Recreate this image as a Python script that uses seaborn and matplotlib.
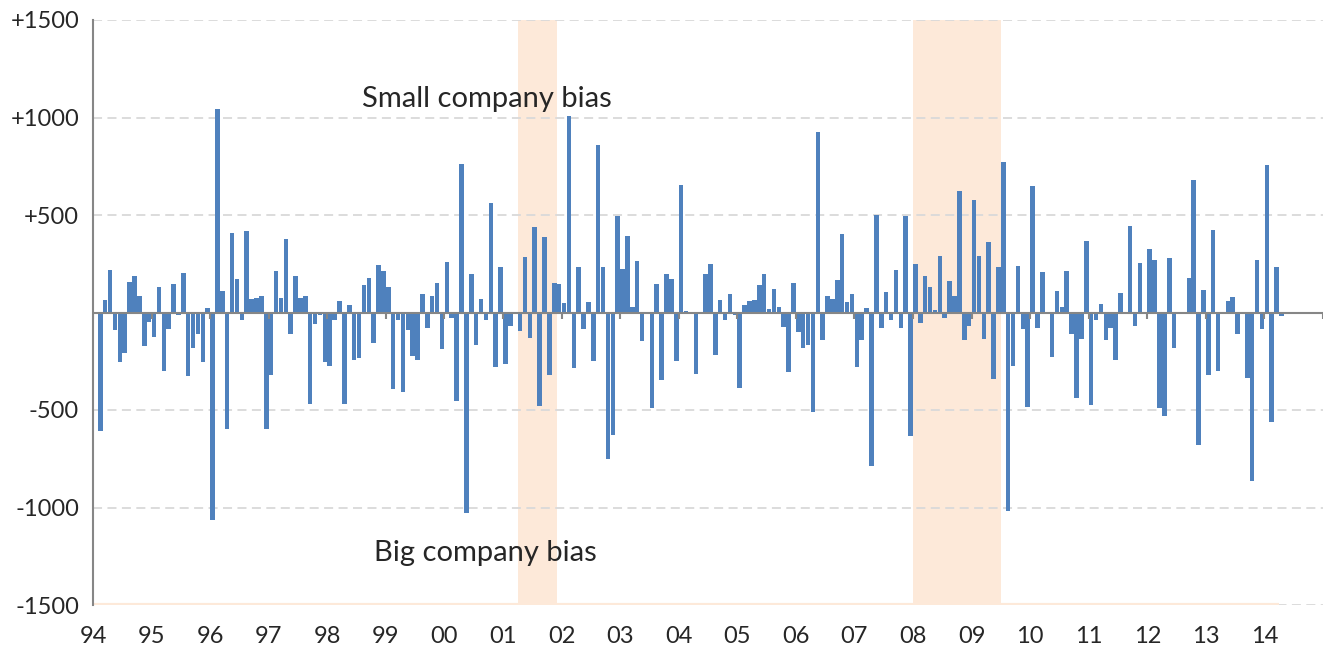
import matplotlib
matplotlib.use("Agg")
import matplotlib.pyplot as plt
import numpy as np
import pandas as pd
import seaborn as sns

# monthly readings, one list per year (Jan..Dec); the series starts in Feb 1994
y1994 = [-610, 65, 219, -92, -255, -209, 156, 189, 85, -172, -51]
y1995 = [-124, 129, -298, -83, 148, -15, 204, -328, -184, -109, -252, 24]
y1996 = [-1064, 1044, 109, -597, 406, 172, -39, 418, 70, 75, 87, -597]
y1997 = [-320, 212, 73, 376, -109, 189, 75, 83, -469, -61, -15, -252]
y1998 = [-274, -39, 58, -471, 37, -243, -231, 139, 179, -155, 243, 212]
y1999 = [131, -393, -36, -410, -92, -223, -243, 95, -82, 87, 153, -189]
y2000 = [258, -27, -452, 763, -1030, 200, -168, 71, -41, 559, -277, 233]
y2001 = [-265, -70, -5, -95, 286, -129, 440, -481, 386, -318, 153, 146]
y2002 = [48, 1010, -287, 231, -87, 54, -250, 860, 231, -750, -627, 496]
y2003 = [223, 394, 27, 264, -146, -5, -490, 146, -347, 197, 172, -248]
y2004 = [656, 8, 3, -316, 3, 197, 248, -219, 66, -41, 97, -15]
y2005 = [-389, 37, 58, 66, 139, 197, 19, 121, 26, -75, -304, 150]
y2006 = [-100, -180, -167, -508, 925, -141, 85, 70, 168, 403, 54, 95]
y2007 = [-282, -141, 24, -787, 498, -78, 104, -39, 218, -78, 496, -634]
y2008 = [250, -53, 189, 131, 15, 291, -27, 163, 85, 622, -143, -70]
y2009 = [576, 291, -136, 362, -342, 233, 772, -1017, -274, 241, -83, -486]
y2010 = [648, -80, 207, 3, -226, 110, 27, 212, -112, -438, -134, 365]
y2011 = [-474, -36, 42, -143, -80, -243, 100, -10, 445, -71, 253, -10]
y2012 = [328, 267, -491, -530, 279, -180, 3, -5, 177, 678, -678, 116]
y2013 = [-323, 422, -298, 3, 58, 77, -109, 3, -337, -865, 270, -87]
y2014 = [755, -559, 233, -19]

years = list(range(1994, 2016))
year_labels = [str(y)[2:] for y in years[:-1]] + ['']
shade_from = ['2001-04', '2008-01']
shade_to = ['2001-12', '2009-07']
yticks = [-1500, -1000, -500, 0, 500, 1000, 1500]
ytick_labels = ['-1500', '-1000', '-500', '', '+500', '+1000', '+1500']

values = (y1994 + y1995 + y1996 + y1997 + y1998 + y1999 + y2000 + y2001 + y2002
          + y2003 + y2004 + y2005 + y2006 + y2007 + y2008 + y2009 + y2010
          + y2011 + y2012 + y2013 + y2014)
dates = pd.date_range('1994-02-01', periods=len(values), freq='MS')
df = pd.DataFrame({'date': dates, 'value': values})


def month_pos(d):
    d = pd.Timestamp(d)
    return (d.year - years[0]) * 12 + d.month - 1


df['pos'] = df['date'].apply(month_pos) + 0.5

sns.set_style('white')
plt.rcParams['font.family'] = ['Lato', 'DejaVu Sans']

fig = plt.figure(figsize=(13.31, 6.49), dpi=100)
ax = fig.add_axes([93 / 1331, 44 / 649, 1230 / 1331, 585 / 649])

peach = '#FDE9D9'
grey = '#868686'

for a, b in zip(shade_from, shade_to):
    ax.axvspan(month_pos(a), month_pos(b), color=peach, lw=0, zorder=0)

sns.barplot(data=df, x='pos', y='value', native_scale=True, width=0.93,
            color='#4F81BD', saturation=1, linewidth=0, errorbar=None, ax=ax, zorder=3)

year_pos = [(y - years[0]) * 12 for y in years]
ax.set_xlim(0, year_pos[-1])
ax.set_ylim(-1500, 1500)
ax.set_yticks(yticks)
ax.set_yticklabels(ytick_labels)
ax.set_xticks(year_pos)
ax.set_xticklabels(year_labels)
ax.set_xlabel('')
ax.set_ylabel('')

ax.yaxis.grid(True, color='#D9D9D9', lw=1.3, ls=(0, (5, 3)), zorder=1)
ax.xaxis.grid(False)
ax.set_axisbelow(True)

# thin band of the shading series along the bottom
ax.hlines(-1500, 0, len(values), color=peach, lw=3, zorder=2)

# horizontal axis sits at zero, with year ticks hanging below it
ax.axhline(0, color=grey, lw=1.5, zorder=4)
ax.vlines(year_pos, -32, 0, color=grey, lw=1.5, zorder=4)

for s in ['top', 'right', 'bottom']:
    ax.spines[s].set_visible(False)
ax.spines['left'].set_color(grey)
ax.spines['left'].set_linewidth(1.5)
ax.tick_params(axis='y', length=6, width=1.5, color=grey, labelsize=17, pad=4)
ax.tick_params(axis='x', length=0, labelsize=17, pad=15)

ax.text(80.7, 1095, 'Small company bias', ha='center', va='center', fontsize=21)
ax.text(80.3, -1235, 'Big company bias', ha='center', va='center', fontsize=21)

plt.savefig('out.png', dpi=100)
